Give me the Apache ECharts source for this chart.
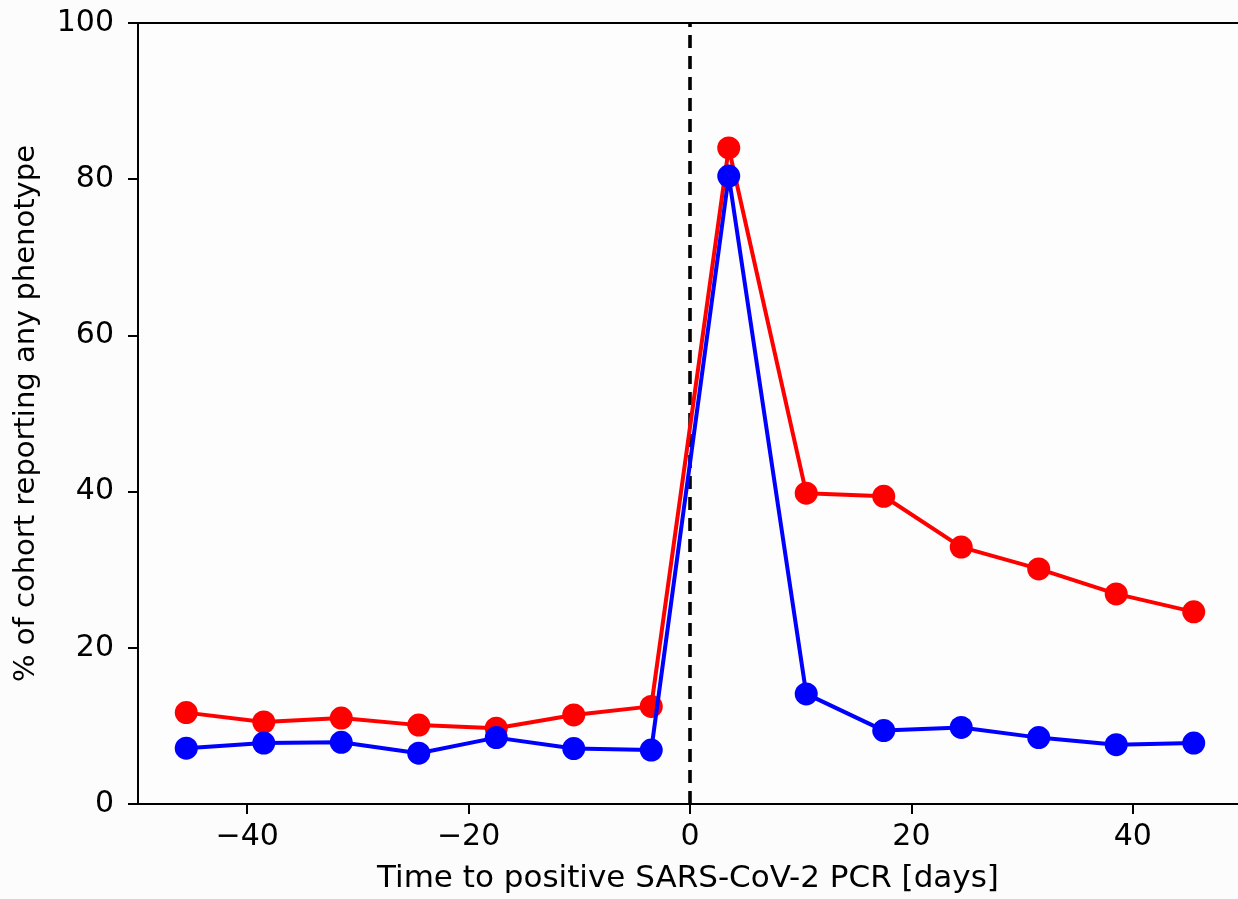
<!DOCTYPE html>
<html>
<head>
<meta charset="utf-8">
<script src="https://cdn.jsdelivr.net/npm/echarts@6/dist/echarts.min.js"></script>
<style>
html,body{margin:0;padding:0;background:#fcfcfc;}
#chart{width:1238px;height:899px;}
</style>
</head>
<body>
<div id="chart"></div>
<script>
const days = [-45.5, -38.5, -31.5, -24.5, -17.5, -10.5, -3.5, 3.5, 10.5, 17.5, 24.5, 31.5, 38.5, 45.5];
const redValues = [11.7, 10.5, 11.0, 10.1, 9.7, 11.4, 12.5, 84.0, 39.8, 39.4, 32.9, 30.1, 26.9, 24.6];
const blueValues = [7.15, 7.8, 7.9, 6.5, 8.5, 7.1, 6.9, 80.4, 14.1, 9.4, 9.8, 8.5, 7.6, 7.8];
const xTicks = [-40, -20, 0, 20, 40];
const yTicks = [0, 20, 40, 60, 80, 100];
const xLabel = 'Time to positive SARS-CoV-2 PCR [days]';
const yLabel = '% of cohort reporting any phenotype';
const pcrDay = 0;

const font = 'DejaVu Sans';
const fmt = v => String(v).replace('-', '\u2212');

const chart = echarts.init(document.getElementById('chart'), null, {renderer: 'canvas'});
const pairs = vals => days.map((d, i) => [d, vals[i]]);
const xMin = -49.86, xMax = 49.5;

chart.setOption({
  backgroundColor: '#fcfcfc',
  animation: false,
  grid: {left: 138, top: 23, right: 0, bottom: 93, show: true, borderWidth: 0, backgroundColor: '#fdfdfd'},
  xAxis: [{
    type: 'value', min: xMin, max: xMax, position: 'bottom',
    name: xLabel, nameLocation: 'middle', nameGap: 59,
    nameTextStyle: {fontFamily: font, fontSize: 31, color: '#000'},
    splitLine: {show: false},
    axisLine: {show: true, onZero: false, lineStyle: {color: '#000', width: 2}},
    axisTick: {show: true, length: 10, lineStyle: {color: '#000', width: 2}, customValues: xTicks},
    axisLabel: {fontFamily: font, fontSize: 30, color: '#000', margin: 18, customValues: xTicks, formatter: fmt}
  }, {
    type: 'value', min: xMin, max: xMax, position: 'top',
    splitLine: {show: false},
    axisLine: {show: true, onZero: false, lineStyle: {color: '#000', width: 2}},
    axisTick: {show: false}, axisLabel: {show: false}
  }],
  yAxis: {
    type: 'value', min: 0, max: 100,
    name: yLabel, nameLocation: 'middle', nameGap: 97,
    nameTextStyle: {fontFamily: font, fontSize: 29, color: '#000'},
    splitLine: {show: false},
    axisLine: {show: true, onZero: false, lineStyle: {color: '#000', width: 2}},
    axisTick: {show: true, length: 10, lineStyle: {color: '#000', width: 2}, customValues: yTicks},
    axisLabel: {fontFamily: font, fontSize: 30, color: '#000', margin: 24, customValues: yTicks, formatter: fmt}
  },
  series: [
    {
      type: 'line', data: pairs(redValues), symbol: 'circle', symbolSize: 23,
      itemStyle: {color: '#ff0000'}, lineStyle: {color: '#ff0000', width: 4}, z: 3,
      markLine: {
        silent: true, symbol: 'none', label: {show: false}, z: 2,
        lineStyle: {color: '#000', width: 3.6, type: [13, 8]},
        data: [{xAxis: pcrDay}]
      }
    },
    {
      type: 'line', data: pairs(blueValues), symbol: 'circle', symbolSize: 23,
      itemStyle: {color: '#0000ff'}, lineStyle: {color: '#0000ff', width: 4}, z: 4
    }
  ]
});
</script>
</body>
</html>
